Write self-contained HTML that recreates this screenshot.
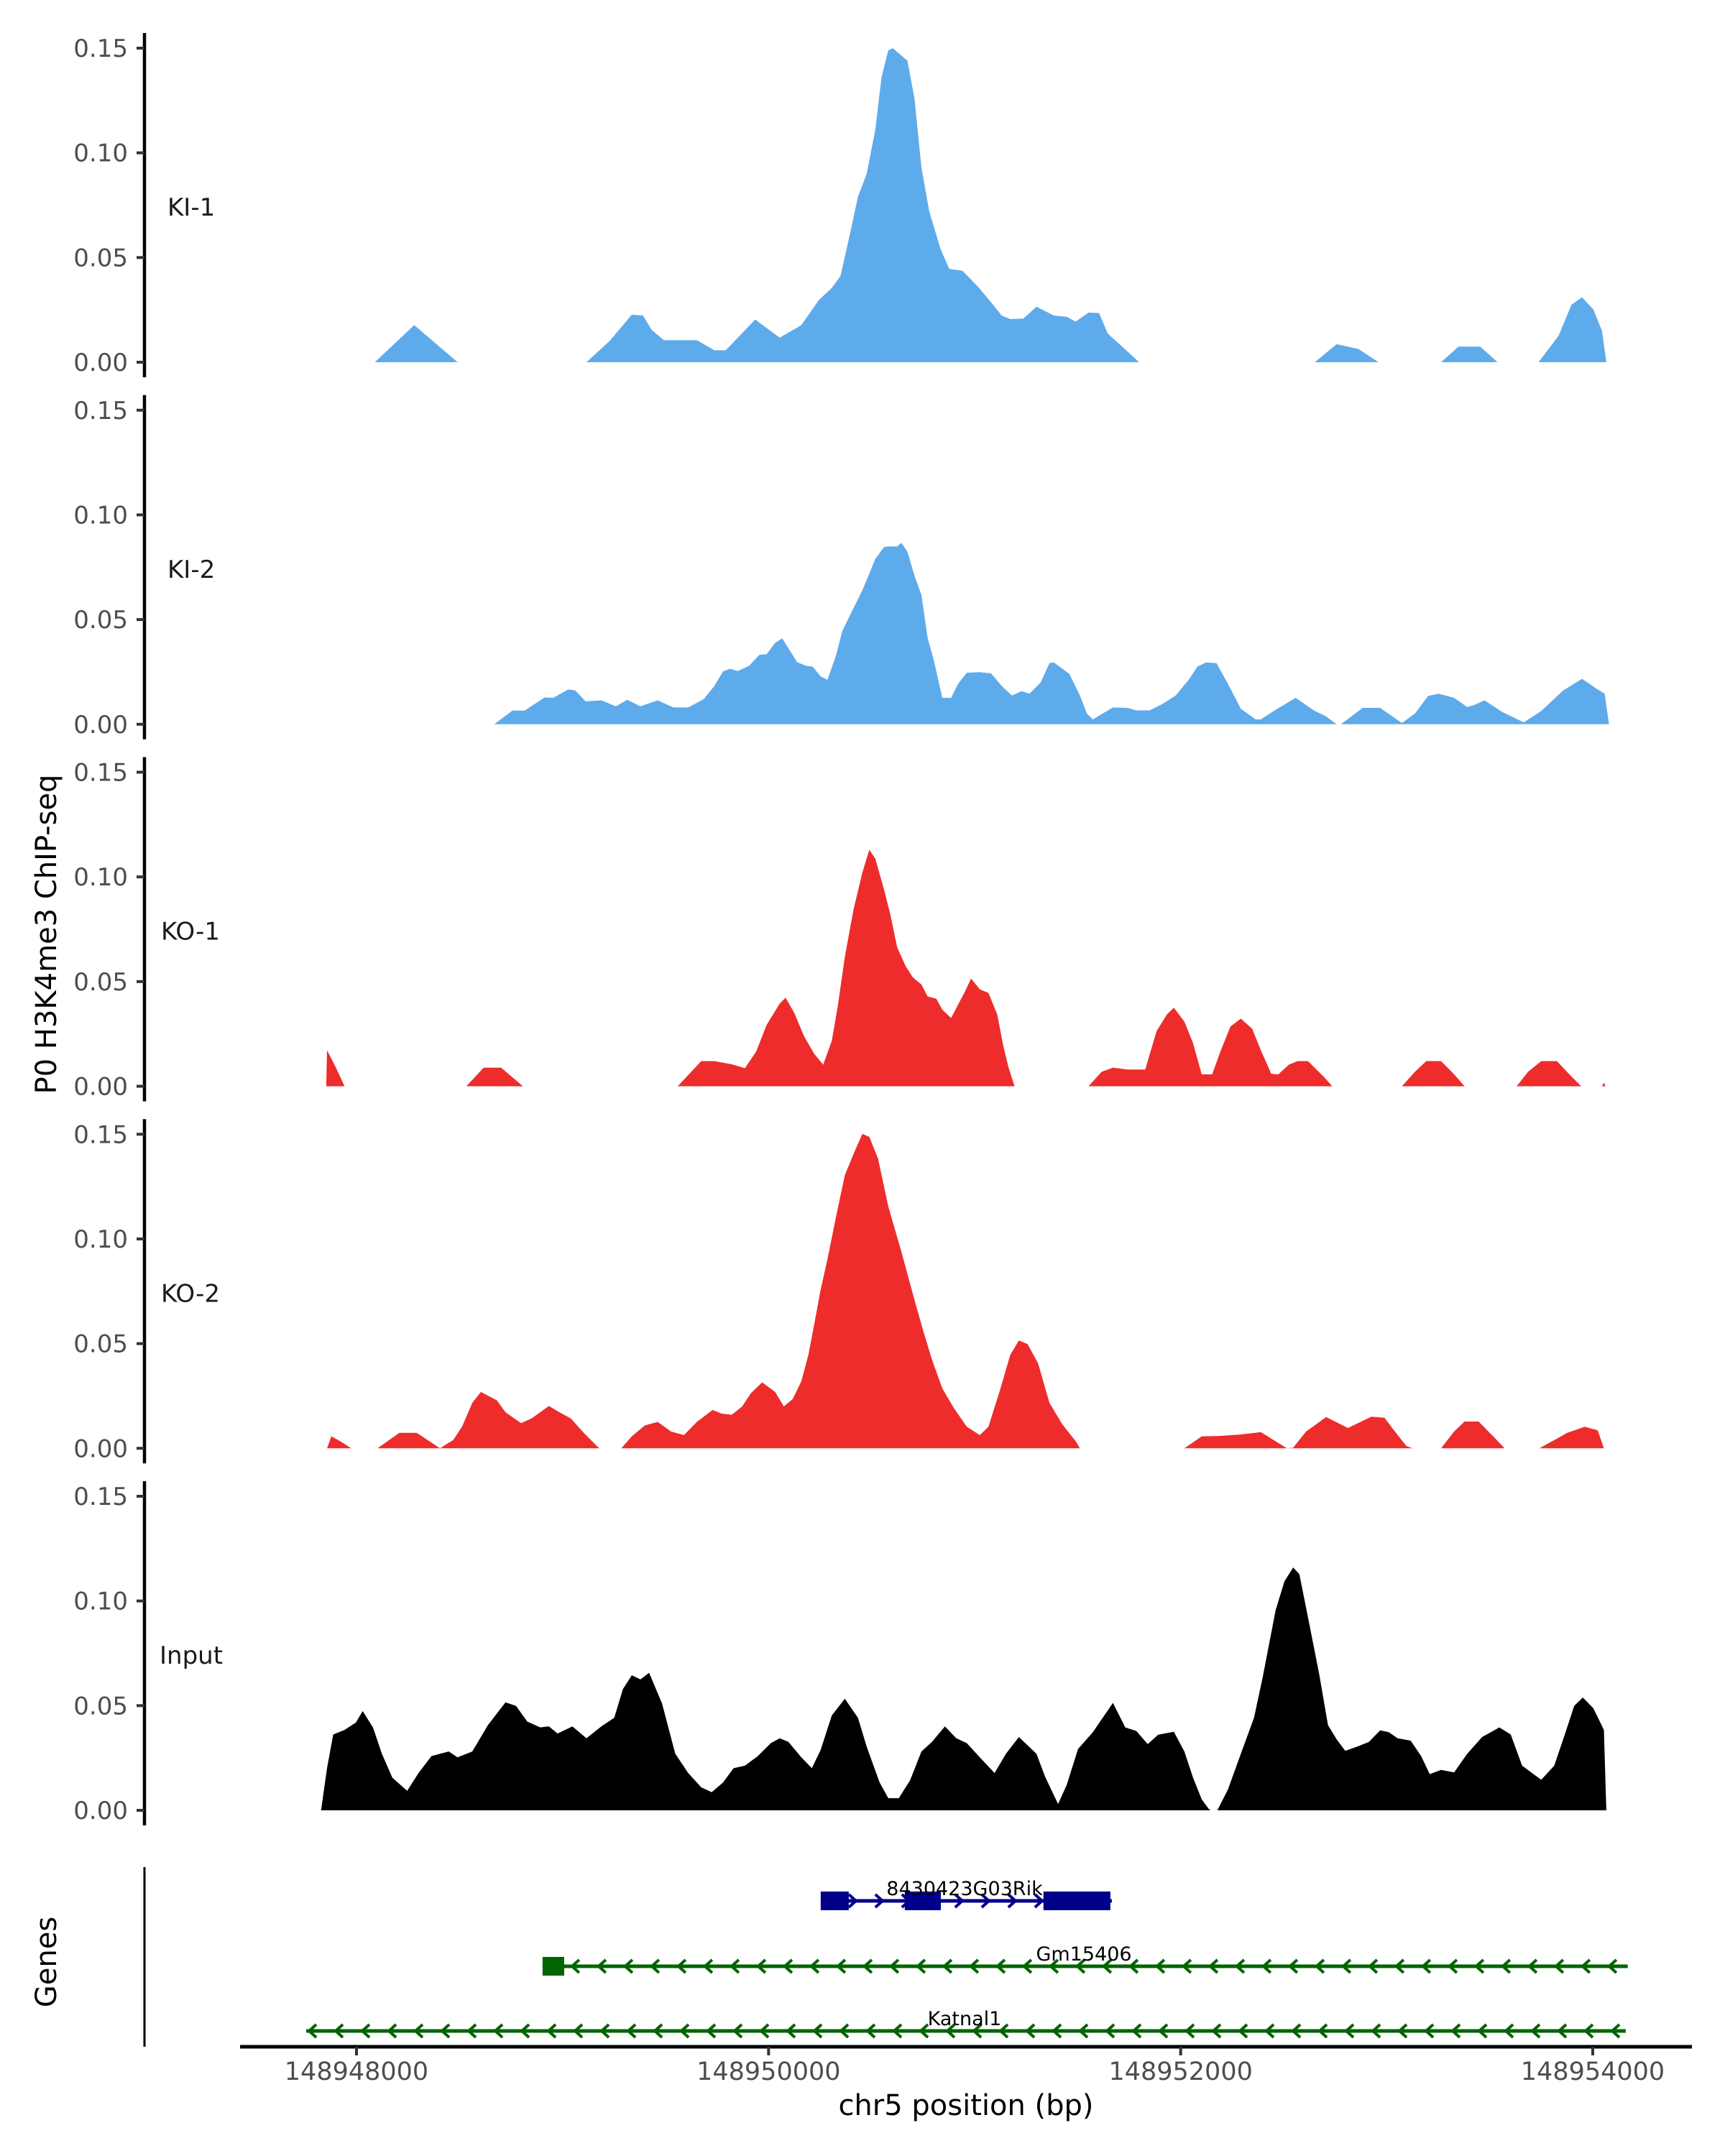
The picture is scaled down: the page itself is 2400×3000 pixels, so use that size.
<!DOCTYPE html>
<html><head><meta charset="utf-8">
<style>
html,body{margin:0;padding:0;background:#fff;}
svg{display:block;font-family:"DejaVu Sans","Liberation Sans",sans-serif;}
</style></head>
<body>
<svg id="chart" width="2400" height="3000" viewBox="0 0 2400 3000" xmlns="http://www.w3.org/2000/svg">
<rect x="0" y="0" width="2400" height="3000" fill="#fff"/>
<g id="panels"></g>
<g id="genes"></g>
<text x="0" y="0" transform="translate(78,1300) rotate(-90)" text-anchor="middle" font-size="40" fill="#000">P0 H3K4me3 ChIP-seq</text>
<text x="0" y="0" transform="translate(78,2730) rotate(-90)" text-anchor="middle" font-size="40" fill="#000">Genes</text>
<text x="1344" y="2943" text-anchor="middle" font-size="40" fill="#000">chr5 position (bp)</text>
</svg>
<script>
// ---- data (positions as bp offset from 148948000; values = coverage) ----
const trackNames = ["KI-1","KI-2","KO-1","KO-2","Input"];
const trackColors = ["#5eabec","#5eabec","#ee2c2c","#ee2c2c","#000000"];
const yTicks = [0, 0.05, 0.10, 0.15];
const yTickLabels = ["0.00","0.05","0.10","0.15"];
const xTicks = [148948000, 148950000, 148952000, 148954000];
const xTickLabels = ["148948000","148950000","148952000","148954000"];

const ki1Pos = [89,280,491,1116,1230,1336,1390,1433,1492,1652,1737,1792,1935,2054,2159,2244,2307,2349,2391,2434,2476,2518,2548,2581,2603,2674,2708,2742,2780,2835,2877,2941,3017,3089,3131,3173,3236,3300,3384,3447,3490,3553,3604,3646,3722,3798,4651,4757,4863,4960,5264,5348,5454,5538,5737,5834,5897,5948,6003,6045,6066];
const ki1Val = [0,0.0177,0,0,0.0103,0.0227,0.0223,0.0154,0.0105,0.0105,0.0057,0.0057,0.0204,0.0117,0.0177,0.0297,0.0355,0.0412,0.0595,0.079,0.090,0.111,0.136,0.149,0.150,0.144,0.126,0.093,0.072,0.054,0.0446,0.0437,0.036,0.0275,0.0223,0.0206,0.0208,0.0265,0.0223,0.0217,0.0194,0.0237,0.0235,0.0137,0.0069,0,0,0.0086,0.0063,0,0,0.0074,0.0074,0,0,0.0126,0.0275,0.031,0.0252,0.0149,0];

const ki2Pos = [668,757,816,913,955,1027,1061,1112,1188,1259,1314,1378,1462,1538,1610,1686,1737,1779,1813,1851,1906,1956,1990,2032,2066,2109,2138,2180,2214,2252,2286,2328,2358,2404,2455,2489,2518,2561,2594,2624,2645,2674,2708,2742,2772,2801,2843,2886,2920,2962,3025,3080,3131,3181,3228,3266,3321,3363,3384,3460,3511,3545,3574,3671,3743,3785,3849,3912,3976,4039,4081,4123,4174,4229,4292,4364,4389,4461,4558,4651,4702,4757,4778,4883,4968,5074,5137,5201,5251,5327,5391,5425,5475,5560,5665,5750,5855,5948,6024,6058,6079];
const ki2Val = [0,0.0065,0.0065,0.0128,0.0126,0.0166,0.0162,0.0109,0.0114,0.0086,0.0117,0.0086,0.0114,0.008,0.008,0.012,0.0183,0.0252,0.0265,0.0254,0.028,0.0332,0.0334,0.0389,0.041,0.0343,0.0297,0.028,0.0275,0.0229,0.0212,0.0332,0.0446,0.0538,0.064,0.072,0.079,0.0847,0.0849,0.0849,0.0867,0.0824,0.071,0.0618,0.0412,0.0309,0.0126,0.0126,0.0194,0.0246,0.0249,0.0243,0.0183,0.0137,0.0158,0.0146,0.02,0.0292,0.0295,0.024,0.0137,0.0051,0.0023,0.008,0.0078,0.0066,0.0066,0.0097,0.0137,0.0212,0.0275,0.0295,0.0292,0.0194,0.0074,0.0023,0.0023,0.0069,0.0126,0.0063,0.004,0,0,0.0078,0.0078,0.0006,0.0051,0.0135,0.0146,0.0126,0.0082,0.0092,0.0114,0.0059,0.0009,0.0063,0.016,0.0217,0.0166,0.0146,0];

const ko1Pos = [-147,-143,-101,-58,-54,533,617,702,808,1559,1673,1737,1821,1885,1940,1990,2054,2083,2125,2172,2222,2265,2307,2337,2370,2413,2455,2489,2518,2560,2590,2624,2666,2700,2742,2772,2814,2843,2886,2919,2953,2983,3025,3067,3110,3139,3164,3194,3198,3553,3616,3671,3743,3828,3883,3933,3967,4018,4060,4102,4153,4195,4242,4292,4347,4389,4440,4474,4525,4567,4618,4694,4736,5074,5137,5192,5264,5327,5378,5631,5686,5750,5826,5897,5944,6045,6054,6062];
const ko1Val = [0,0.0172,0.0092,0,0,0,0.0089,0.0089,0,0,0.012,0.012,0.0105,0.0086,0.0166,0.0292,0.0395,0.0423,0.0349,0.024,0.0154,0.0103,0.0217,0.0389,0.0618,0.0847,0.102,0.113,0.1087,0.094,0.0824,0.0664,0.0572,0.052,0.0486,0.0429,0.0418,0.0366,0.0326,0.0389,0.0452,0.0515,0.0463,0.0446,0.0343,0.0194,0.0092,0,0,0,0.0069,0.0089,0.008,0.008,0.0263,0.0343,0.0375,0.0309,0.0206,0.0057,0.0057,0.0172,0.0286,0.0323,0.0275,0.0172,0.0059,0.0057,0.0103,0.012,0.012,0.0046,0,0,0.0069,0.012,0.012,0.0057,0,0,0.0069,0.012,0.012,0.0046,0,0,0.0017,0];

const ko2Pos = [-143,-122,-80,-25,102,208,292,406,427,470,512,562,604,681,723,799,850,934,985,1040,1103,1166,1179,1285,1336,1399,1462,1526,1589,1652,1728,1771,1821,1872,1914,1969,2032,2074,2117,2159,2193,2222,2252,2286,2328,2370,2413,2455,2489,2531,2581,2645,2708,2751,2793,2843,2898,2962,3025,3067,3122,3173,3215,3257,3308,3363,3426,3490,3511,4018,4102,4187,4292,4389,4440,4516,4546,4609,4706,4812,4926,4989,5040,5095,5125,5264,5327,5378,5446,5517,5572,5741,5876,5961,6024,6054];
const ko2Val = [0,0.0057,0.0034,0,0,0.0074,0.0074,0,0.0014,0.004,0.0103,0.0217,0.0269,0.0229,0.0172,0.012,0.0143,0.0202,0.0172,0.0143,0.0074,0.0011,0,0,0.0057,0.0109,0.0126,0.008,0.0063,0.0126,0.0183,0.0166,0.016,0.02,0.0263,0.0315,0.0269,0.02,0.0235,0.032,0.0446,0.0595,0.0755,0.0904,0.111,0.1304,0.1407,0.1502,0.1487,0.1384,0.1155,0.0938,0.0709,0.056,0.0423,0.0286,0.0194,0.0103,0.0063,0.0103,0.0275,0.0446,0.0515,0.0498,0.0406,0.0217,0.0114,0.0034,0,0,0.0057,0.0059,0.0066,0.0077,0.0046,0,0.0003,0.008,0.0149,0.0097,0.0151,0.0146,0.008,0.0011,0,0,0.008,0.0128,0.0128,0.0057,0,0,0.0074,0.0103,0.0086,0];

const inputPos = [-172,-143,-113,-58,-3,30,80,123,174,246,301,364,448,490,562,638,723,774,829,892,934,976,1048,1116,1188,1251,1293,1336,1378,1420,1483,1547,1610,1673,1724,1779,1830,1885,1948,2011,2054,2096,2159,2210,2252,2307,2370,2434,2476,2539,2581,2632,2687,2742,2793,2856,2911,2962,3025,3097,3152,3215,3300,3342,3405,3447,3502,3574,3671,3731,3785,3840,3891,3967,4018,4060,4102,4136,4145,4178,4229,4292,4356,4398,4461,4504,4546,4576,4618,4673,4715,4757,4799,4863,4914,4968,5010,5053,5116,5167,5209,5264,5327,5391,5463,5547,5602,5657,5750,5813,5868,5910,5952,6003,6054,6066];
const inputVal = [0,0.0201,0.0362,0.0384,0.0419,0.0474,0.0396,0.027,0.0156,0.0093,0.0178,0.0259,0.0281,0.0253,0.0281,0.0407,0.0516,0.0499,0.0424,0.0396,0.0401,0.0367,0.0401,0.0344,0.0401,0.0442,0.0579,0.0645,0.0625,0.0657,0.051,0.027,0.0178,0.011,0.0087,0.0133,0.0201,0.0213,0.0259,0.0321,0.0344,0.0327,0.0253,0.0201,0.0287,0.0453,0.0533,0.0442,0.0304,0.0133,0.0058,0.0058,0.0144,0.0281,0.0327,0.0401,0.0344,0.0321,0.0253,0.0178,0.027,0.035,0.027,0.0161,0.003,0.0121,0.0293,0.0373,0.0513,0.0396,0.0379,0.0316,0.0361,0.0375,0.0281,0.0156,0.0053,0.0007,0,0,0.0098,0.027,0.0442,0.0636,0.0956,0.1094,0.116,0.1128,0.0922,0.0647,0.0407,0.0339,0.0284,0.0307,0.0327,0.0382,0.0373,0.0344,0.0333,0.0259,0.0173,0.0193,0.0181,0.027,0.035,0.0396,0.0362,0.0213,0.0146,0.0213,0.0373,0.0499,0.0539,0.0487,0.0384,0];

const trackPos = [ki1Pos, ki2Pos, ko1Pos, ko2Pos, inputPos];
const trackVal = [ki1Val, ki2Val, ko1Val, ko2Val, inputVal];

// genes: name, strand, start, end (bp offset), exon starts, exon ends
const geneNames = ["8430423G03Rik","Gm15406","Katnal1"];
const geneStrands = ["+","-","-"];
const geneStarts = [2253, 903, -244];
const geneEnds = [3666, 6170, 6160];
const geneExonStarts = [[2253,2661,3334],[903],[]];
const geneExonEnds = [[2389,2836,3659],[1008],[]];
const geneColors = ["#00008b","#006400","#006400"];

// ---- scales ----
const BASE = 148948000;
const PX0 = 496, PXPERBP = 1720/6000;
function xs(off){ return PX0 + off*PXPERBP; }
const ZERO0 = 504, PANEL_STEP = 503.75, PXPERVAL = 437/0.15;
function ys(i, v){ return ZERO0 + i*PANEL_STEP - v*PXPERVAL; }

const NS = "http://www.w3.org/2000/svg";
function mk(tag, attrs, parent){
  const e = document.createElementNS(NS, tag);
  for (const k in attrs) e.setAttribute(k, attrs[k]);
  parent.appendChild(e);
  return e;
}
const panels = document.getElementById("panels");
trackNames.forEach((name, i) => {
  const g = mk("g", {}, panels);
  
  
  const pos = trackPos[i], val = trackVal[i];
  let d = "M" + xs(pos[0]).toFixed(1) + "," + ys(i,0).toFixed(1);
  for (let k = 0; k < pos.length; k++) d += " L" + xs(pos[k]).toFixed(1) + "," + ys(i,val[k]).toFixed(1);
  d += " L" + xs(pos[pos.length-1]).toFixed(1) + "," + ys(i,0).toFixed(1) + " Z";
  const area = mk("path", {d: d, fill: trackColors[i], stroke: "none"}, g);
  
  
  const z = ys(i,0), top = ys(i,0.15);
  const ax = mk("line", {x1: 201, x2: 201, y1: top - 21, y2: z + 21, stroke: "#000", "stroke-width": 4.5}, g);
  
  
  yTicks.forEach((t, j) => {
    const y = ys(i, t);
    const tk = mk("line", {x1: 190, x2: 201, y1: y, y2: y, stroke: "#333", "stroke-width": 4}, g);
    
    
    const tl = mk("text", {x: 178, y: y + 12, "text-anchor": "end", "font-size": 34, fill: "#4d4d4d"}, g);
    tl.textContent = yTickLabels[j];
    
    
  });
  const lbl = mk("text", {x: name === "Input" ? 222 : (name.startsWith("KO") ? 224 : 233), y: z - 204, "font-size": 34, fill: "#1a1a1a"}, g);
  lbl.textContent = name;
  
  
});

// ---- genes ----
const genes = document.getElementById("genes");
const geneY = [2645, 2736, 2826];
const gax = mk("line", {x1: 201, x2: 201, y1: 2598, y2: 2848, stroke: "#000", "stroke-width": 3}, genes);


geneNames.forEach((n, i) => {
  const g = mk("g", {}, genes);
  
  
  const y = geneY[i], c = geneColors[i];
  const x1 = xs(geneStarts[i]), x2 = xs(geneEnds[i]);
  const ln = mk("line", {x1: x1, x2: x2, y1: y, y2: y, stroke: c, "stroke-width": 5}, g);
  
  
  for (let x = x1 + 8; x <= x2; x += 37) {
    const dir = geneStrands[i] === "+" ? 1 : -1;
    const ch = mk("polyline", {points: (x - dir*6) + "," + (y - 9) + " " + (x + dir*4) + "," + y + " " + (x - dir*6) + "," + (y + 9), fill: "none", stroke: c, "stroke-width": 4}, g);
    
    
  }
  geneExonStarts[i].forEach((s, k) => {
    const ex = mk("rect", {x: xs(s), y: y - 13, width: xs(geneExonEnds[i][k]) - xs(s), height: 26, fill: c}, g);
    
    
  });
  const labX = [1342, 1508, 1342][i];
  const t = mk("text", {x: labX, y: y - 8, "text-anchor": "middle", "font-size": 27, fill: "#000"}, g);
  t.textContent = n;
  
  
});
const xax = mk("line", {x1: 334, x2: 2354, y1: 2848, y2: 2848, stroke: "#000", "stroke-width": 5}, genes);


xTicks.forEach((t, j) => {
  const x = xs(t - BASE);
  const tk = mk("line", {x1: x, x2: x, y1: 2848, y2: 2860, stroke: "#333", "stroke-width": 4}, genes);
  
  
  const tl = mk("text", {x: x, y: 2894, "text-anchor": "middle", "font-size": 35, fill: "#4d4d4d"}, genes);
  tl.textContent = xTickLabels[j];
  
  
});
</script>
</body></html>
